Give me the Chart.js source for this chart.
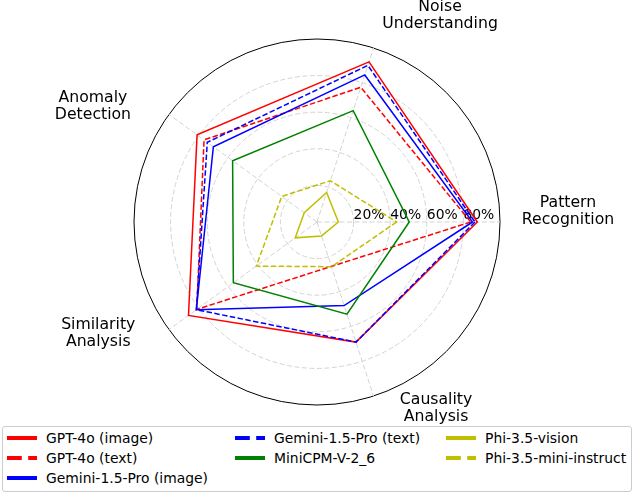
<!DOCTYPE html>
<html>
<head>
<meta charset="utf-8">
<script src="https://cdn.jsdelivr.net/npm/chart.js@4"></script>
<style>
  body { margin: 0; background: #fff; font-family: "DejaVu Sans", sans-serif; }
  #wrap { position: relative; width: 634px; height: 494px; }
  #legend { position: absolute; left: 2px; top: 426px; width: 628px; height: 64px;
            border: 1px solid #cccccc; border-radius: 3px; background: #fff; font-size: 13.9px; color: #000; }
  .item { position: absolute; height: 20px; line-height: 20px; white-space: nowrap; }
  .item svg { position: absolute; left: 0; top: 8px; }
  .item span { position: absolute; left: 39px; top: 0; }
</style>
</head>
<body>
<div id="wrap">
  <canvas id="radarChart" width="634" height="494"></canvas>
  <div id="legend"></div>
</div>
<script>
"use strict";
// categories in Chart.js (clockwise) order, starting at the right
var categories = ["Pattern\nRecognition", "Causality\nAnalysis", "Similarity\nAnalysis", "Anomaly\nDetection", "Noise\nUnderstanding"];

// scores, same order as categories
var gpt4oImage  = [0.876, 0.69, 0.868, 0.81, 0.92];
var gpt4oText   = [0.84, 0.255, 0.812, 0.763, 0.774];
var geminiImage = [0.85, 0.48, 0.815, 0.70, 0.845];
var geminiText  = [0.863, 0.69, 0.815, 0.741, 0.90];
var miniCPM     = [0.504, 0.53, 0.565, 0.57, 0.64];
var phiVision   = [0.117, 0.08, 0.147, 0.086, 0.17];
var phiMini     = [0.435, 0.257, 0.41, 0.238, 0.237];

var seriesNames = ["GPT-4o (image)", "GPT-4o (text)", "Gemini-1.5-Pro (image)", "Gemini-1.5-Pro (text)",
                   "MiniCPM-V-2_6", "Phi-3.5-vision", "Phi-3.5-mini-instruct"];
var seriesValues = [gpt4oImage, gpt4oText, geminiImage, geminiText, miniCPM, phiVision, phiMini];
var seriesColors = ["#ff0000", "#ff0000", "#0000ff", "#0000ff", "#008000", "#bfbf00", "#bfbf00"];
var seriesDashed = [false, true, false, true, false, false, true];

var tickValues = [0.2, 0.4, 0.6, 0.8];
var tickLabels = ["20%", "40%", "60%", "80%"];

// offset of each category label (first baseline) from the outer ring point
var labelOffsets = [[68, -15.5], [62.5, 7.5], [-70.7, -0.5], [-76, -12.5], [66.5, -37.3]];

var datasets = seriesNames.map(function (name, i) {
    return {
        label: name,
        data: seriesValues[i],
        borderColor: seriesColors[i],
        backgroundColor: "transparent",
        borderWidth: 1.5,
        borderDash: seriesDashed[i] ? [5.5, 2.4] : [],
        pointRadius: 0,
        fill: false,
        order: seriesNames.length - i   // later series on top, like matplotlib
    };
});

var textPlugin = {
    id: "mplText",
    beforeDatasetsDraw: function (chart) {
        var r = chart.scales.r, c = chart.ctx;
        c.save();
        c.fillStyle = "#000";
        c.font = '13.9px "DejaVu Sans"';
        c.textAlign = "left";
        c.textBaseline = "alphabetic";
        tickValues.forEach(function (v, i) {
            c.fillText(tickLabels[i], r.xCenter + r.getDistanceFromCenterForValue(v), r.yCenter - 3);
        });
        c.restore();
    },
    afterDraw: function (chart) {
        var r = chart.scales.r, c = chart.ctx;
        c.save();
        c.fillStyle = "#000";
        c.font = '15.7px "DejaVu Sans"';
        c.textAlign = "center";
        c.textBaseline = "alphabetic";
        categories.forEach(function (lab, i) {
            var p = r.getPointPosition(i, r.drawingArea);
            var off = labelOffsets[i];
            lab.split("\n").forEach(function (line, k) {
                c.fillText(line, p.x + off[0], p.y + off[1] + k * 17);
            });
        });
        c.restore();
    }
};

var ctx = document.getElementById("radarChart");
var radarChart = new Chart(ctx, {
    type: "radar",
    data: { labels: categories, datasets: datasets },
    options: {
        responsive: false,
        animation: false,
        devicePixelRatio: 1,
        layout: { padding: { left: 134, right: 134, top: 39, bottom: 89 } },
        elements: { line: { tension: 0 } },
        plugins: { legend: { display: false }, tooltip: { enabled: false } },
        scales: {
            r: {
                min: 0,
                max: 1,
                startAngle: 90,
                ticks: { display: false, stepSize: 0.2 },
                pointLabels: { display: false },
                grid: {
                    circular: true,
                    lineWidth: 1,
                    color: function (c) { return c.tick && c.tick.value > 0.99 ? "#000000" : "#d3d3d3"; }
                },
                border: {
                    dash: function (c) { return c.tick && c.tick.value > 0.99 ? [] : [5, 2.5]; }
                },
                angleLines: { color: "#d3d3d3", lineWidth: 1, borderDash: [5, 2.5] }
            }
        }
    },
    plugins: [textPlugin]
});

// matplotlib-style legend, 3 columns filled column by column
var legendCols = [4, 4, 4, 232, 232, 443, 443];
var legendRows = [1, 21, 41, 1, 21, 1, 21];
var legend = document.getElementById("legend");
seriesNames.forEach(function (name, i) {
    var div = document.createElement("div");
    div.className = "item";
    div.style.left = legendCols[i] + "px";
    div.style.top = legendRows[i] + "px";
    var dash = seriesDashed[i] ? ' stroke-dasharray="14.8 6.4"' : "";
    div.innerHTML = '<svg width="30" height="4"><line x1="0" y1="2" x2="30" y2="2" stroke="' +
        seriesColors[i] + '" stroke-width="4"' + dash + '/></svg><span>' + name + "</span>";
    legend.appendChild(div);
});
</script>
</body>
</html>
